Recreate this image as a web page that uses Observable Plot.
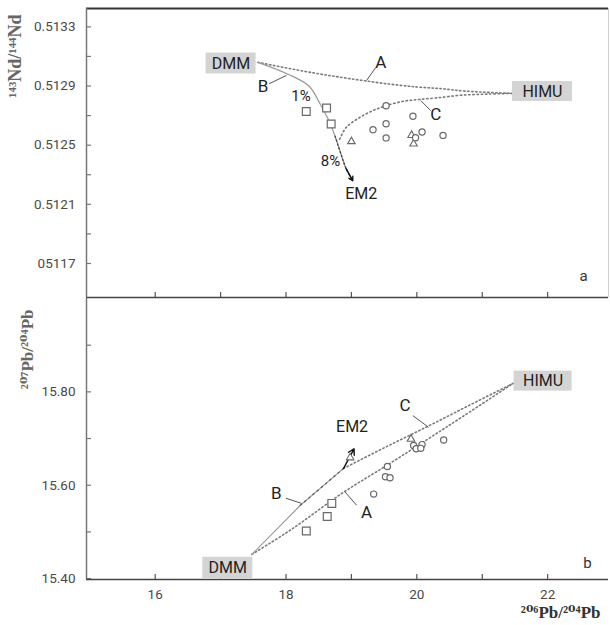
<!DOCTYPE html>
<html><head><meta charset="utf-8">
<script src="https://cdn.jsdelivr.net/npm/d3@7"></script>
<script src="https://cdn.jsdelivr.net/npm/@observablehq/plot@0.6"></script>
<style>
body{margin:0;background:#fff;}
#chart{width:610px;}
#chart svg{display:block;}
</style></head><body><div id="chart"></div>
<script>
// ---------- scales / ticks ----------
const xDomain = [14.95, 22.93];
const ndDomain = [0.51147, 0.513424];
const pbDomain = [15.398, 16.0];
const ndTicks = [0.5117, 0.5121, 0.5125, 0.5129, 0.5133];
const ndTickLabels = ["05117", "0.5121", "0.5125", "0.5129", "0.5133"];
const ndMinorTicks = [0.5119, 0.5123, 0.5127, 0.5131];
const pbTicks = [15.40, 15.60, 15.80];
const pbTickLabels = ["15.40", "15.60", "15.80"];
const pbMinorTicks = [15.50, 15.70, 15.90];
const xTicks = [16, 17, 18, 19, 20, 21, 22];
const xLabelTicks = [16, 18, 20, 22];

// ---------- panel a : 206Pb/204Pb vs 143Nd/144Nd ----------
const aCurveA = [[17.57,0.51306],[18.40,0.51299],[19.05,0.512945],[19.58,0.512913],[20.01,0.512893],[20.37,0.512882],[20.75,0.512865],[21.47,0.51285]];
const aCurveB = [[17.57,0.51306],[18.03,0.51298],[18.35,0.51290],[18.52,0.51278],[18.64,0.51268],[18.75,0.51256],[18.84,0.51244],[18.92,0.51234],[19.02,0.51226]];
const aCurveC = [[18.82,0.51254],[18.92,0.51262],[19.10,0.51268],[19.30,0.512728],[19.52,0.512766],[19.80,0.512797],[20.04,0.512809],[20.31,0.51282],[20.68,0.512838],[21.08,0.512845],[21.47,0.51285]];
const aSquares = [[18.31,0.512728],[18.62,0.512751],[18.69,0.512643]];
const aTriangles = [[19.00,0.512525],[19.92,0.512567],[19.95,0.512509]];
const aCircles = [[19.33,0.512605],[19.53,0.512645],[19.53,0.512549],[19.53,0.512766],[19.94,0.512695],[19.98,0.51255],[20.08,0.512589],[20.40,0.512566]];
const aBoxes = [{text:"DMM", x:17.16, y:0.513052, w:25, h:10.5},{text:"HIMU", x:21.92, y:0.512863, w:30, h:10}];
const aLabels = [{text:"A",x:19.45,y:0.513058,s:17},{text:"B",x:17.65,y:0.512895,s:17},{text:"C",x:20.29,y:0.512705,s:17},
  {text:"1%",x:18.23,y:0.51283,s:15},{text:"8%",x:18.68,y:0.51239,s:15},{text:"EM2",x:19.15,y:0.512172,s:16}];
const aLeaders = [[19.23,0.512937,19.375,0.513027],[17.74,0.512915,18.005,0.512971],[20.06,0.512802,20.21,0.512734]];
const aPanel = [{text:"a", x:22.55, y:0.511615}];

// ---------- panel b : 206Pb/204Pb vs 207Pb/204Pb ----------
const bCurveA = [[17.48,15.452],[18.09,15.506],[18.86,15.583],[19.57,15.645],[20.17,15.699],[20.70,15.747],[21.47,15.818]];
const bCurveB = [[17.48,15.452],[18.22,15.557],[18.88,15.636]];
const bEM2Tip = [19.04,15.678];
const bCurveC = [[18.88,15.636],[19.50,15.680],[20.18,15.727],[20.80,15.771],[21.47,15.818]];
const bSquares = [[18.31,15.502],[18.63,15.533],[18.70,15.561]];
const bTriangles = [[18.98,15.659],[19.91,15.699]];
const bCircles = [[19.34,15.581],[19.55,15.640],[19.52,15.618],[19.59,15.616],[19.95,15.685],[19.99,15.678],[20.08,15.687],[20.06,15.679],[20.41,15.697]];
const bBoxes = [{text:"DMM", x:17.11, y:15.422, w:25, h:11},{text:"HIMU", x:21.93, y:15.823, w:29, h:10}];
const bLabels = [{text:"C",x:19.82,y:15.770,s:17},{text:"EM2",x:19.01,y:15.724,s:16},{text:"B",x:17.85,y:15.583,s:17},{text:"A",x:19.23,y:15.541,s:17}];
const bLeaders = [[19.94,15.749,20.18,15.724],[18.0,15.572,18.24,15.561],[18.90,15.586,19.08,15.557]];
const bPanel = [{text:"b", x:22.61, y:15.433}];

const W = 610, ML = 86, MR = 2;
const plotW = W - ML - MR;
const sans = "Roboto, 'DejaVu Sans', sans-serif";
const serif = "'Liberation Serif', 'DejaVu Serif', serif";
const curveGray = "#7a7a7a";
const markGray = "#6a6a6a";

function symbols(sq, tri, ci) {
  return [
    Plot.dot(sq, {x: d=>d[0], y: d=>d[1], symbol: "square", r: 4.4, stroke: markGray, strokeWidth: 1.2, fill: "white"}),
    Plot.dot(tri, {x: d=>d[0], y: d=>d[1], symbol: "triangle", r: 2.8, stroke: markGray, strokeWidth: 1.1, fill: "white"}),
    Plot.dot(ci, {x: d=>d[0], y: d=>d[1], symbol: "circle", r: 3.1, stroke: markGray, strokeWidth: 1.2, fill: "white"})
  ];
}
function boxMarks(data) {
  return data.map(d => Plot.rect([d], {x1: e=>e.x, x2: e=>e.x, y1: e=>e.y, y2: e=>e.y,
      insetLeft: -d.w, insetRight: -d.w, insetTop: -d.h, insetBottom: -d.h, fill: "#d4d4d4"}))
    .concat([Plot.text(data, {x: d=>d.x, y: d=>d.y, text: d=>d.text, fontSize: 16, fill: "#222", fontFamily: sans})]);
}
function labelMarks(data) {
  return data.map(d => Plot.text([d], {x: e=>e.x, y: e=>e.y, text: e=>e.text, fontSize: d.s, fill: "#222", fontFamily: sans}));
}
function leaderMarks(data) {
  return Plot.link(data, {x1: d=>d[0], y1: d=>d[1], x2: d=>d[2], y2: d=>d[3], stroke: "#555", strokeWidth: 1});
}

// ---------- top panel ----------
const topH = 298, topMT = 8, topMB = 1;
const panelA = Plot.plot({
  width: W, height: topH,
  marginLeft: ML, marginRight: MR, marginTop: topMT, marginBottom: topMB,
  style: {fontFamily: sans, fontSize: "13.5px", color: "#4a4a4a", background: "white", overflow: "visible"},
  x: {domain: xDomain, axis: null},
  y: {domain: ndDomain},
  marks: [
    Plot.axisY({ticks: ndTicks, tickFormat: (d, i) => ndTickLabels[i], tickSize: 0, tickPadding: 11, label: null}),
    Plot.tickY(ndTicks.concat(ndMinorTicks), {y: d=>d, insetRight: plotW - 5, stroke: "#777", strokeWidth: 1.2}),
    Plot.tickX(xTicks, {x: d=>d, insetTop: (topH - topMT - topMB) - 5, stroke: "#555", strokeWidth: 1.2}),
    Plot.ruleY([ndDomain[1]], {stroke: "#333", strokeWidth: 2}),
    Plot.ruleY([ndDomain[0]], {stroke: "#444", strokeWidth: 1.6}),
    Plot.ruleX([xDomain[0]], {stroke: "#777", strokeWidth: 1.5}),
    Plot.ruleX([xDomain[1]], {stroke: "#cfcfcf", strokeWidth: 1}),
    Plot.line(aCurveA, {x: d=>d[0], y: d=>d[1], curve: "catmull-rom", stroke: curveGray, strokeWidth: 1.6, strokeDasharray: "1.4 2.6"}),
    Plot.line(aCurveC, {x: d=>d[0], y: d=>d[1], curve: "catmull-rom", stroke: curveGray, strokeWidth: 1.6, strokeDasharray: "1.4 2.8"}),
    Plot.line(aCurveB, {x: d=>d[0], y: d=>d[1], curve: "catmull-rom", stroke: "#9a9a9a", strokeWidth: 1.2}),
    Plot.line(aCurveB.slice(5), {x: d=>d[0], y: d=>d[1], curve: "catmull-rom", stroke: "#444", strokeWidth: 1.3, strokeDasharray: "1.5 2.5"}),
    Plot.arrow([aCurveB.slice(-2)], {x1: d=>d[0][0], y1: d=>d[0][1], x2: d=>d[1][0], y2: d=>d[1][1], stroke: "#111", strokeWidth: 1.4, headLength: 7}),
    leaderMarks(aLeaders),
    ...symbols(aSquares, aTriangles, aCircles),
    ...boxMarks(aBoxes),
    ...labelMarks(aLabels),
    Plot.text(aPanel, {x: d=>d.x, y: d=>d.y, text: d=>d.text, fontSize: 15, fill: "#333", fontFamily: sans}),
    Plot.text(["¹⁴³Nd/¹⁴⁴Nd"], {frameAnchor: "top-left", text: d=>d, dx: 15 - ML, dy: 6, rotate: -90, textAnchor: "end", lineAnchor: "middle",
      fontFamily: serif, fontWeight: "bold", fontSize: 18, fill: "#666"})
  ]
});

// ---------- bottom panel ----------
const botH = 625 - topH, botMT = 0, botMB = 46;
const panelB = Plot.plot({
  width: W, height: botH,
  marginLeft: ML, marginRight: MR, marginTop: botMT, marginBottom: botMB,
  style: {fontFamily: sans, fontSize: "13.5px", color: "#4a4a4a", background: "white", overflow: "visible"},
  x: {domain: xDomain},
  y: {domain: pbDomain},
  marks: [
    Plot.axisY({ticks: pbTicks, tickFormat: (d, i) => pbTickLabels[i], tickSize: 0, tickPadding: 11, label: null}),
    Plot.axisX({ticks: xLabelTicks, tickFormat: d => String(d), tickSize: 0, tickPadding: 10, label: null}),
    Plot.tickY(pbTicks.concat(pbMinorTicks), {y: d=>d, insetRight: plotW - 5, stroke: "#777", strokeWidth: 1.2}),
    Plot.tickX(xTicks, {x: d=>d, insetTop: (botH - botMT - botMB) - 5, stroke: "#555", strokeWidth: 1.2}),
    Plot.ruleY([pbDomain[0]], {stroke: "#444", strokeWidth: 1.6}),
    Plot.ruleX([xDomain[0]], {stroke: "#777", strokeWidth: 1.5}),
    Plot.line(bCurveA, {x: d=>d[0], y: d=>d[1], curve: "catmull-rom", stroke: curveGray, strokeWidth: 1.6, strokeDasharray: "1.4 2.6"}),
    Plot.line(bCurveC, {x: d=>d[0], y: d=>d[1], curve: "catmull-rom", stroke: curveGray, strokeWidth: 1.6, strokeDasharray: "1.4 2.6"}),
    Plot.line(bCurveB, {x: d=>d[0], y: d=>d[1], stroke: "#9a9a9a", strokeWidth: 1.2}),
    Plot.line(bCurveB.slice(1), {x: d=>d[0], y: d=>d[1], stroke: "#555", strokeWidth: 1.2, strokeDasharray: "1.5 4"}),
    Plot.arrow([[bCurveB[bCurveB.length - 1], bEM2Tip]], {x1: d=>d[0][0], y1: d=>d[0][1], x2: d=>d[1][0], y2: d=>d[1][1], stroke: "#111", strokeWidth: 1.4, headLength: 7}),
    leaderMarks(bLeaders),
    ...symbols(bSquares, bTriangles, bCircles),
    ...boxMarks(bBoxes),
    ...labelMarks(bLabels),
    Plot.text(bPanel, {x: d=>d.x, y: d=>d.y, text: d=>d.text, fontSize: 15, fill: "#333", fontFamily: sans}),
    Plot.text(["²⁰⁷Pb/²⁰⁴Pb"], {frameAnchor: "top-left", text: d=>d, dx: 27 - ML, dy: 11, rotate: -90, textAnchor: "end", lineAnchor: "middle",
      fontFamily: serif, fontWeight: "bold", fontSize: 17, fill: "#666"}),
    Plot.text(["²⁰⁶Pb/²⁰⁴Pb"], {frameAnchor: "bottom-right", text: d=>d, dx: -8, dy: 33, textAnchor: "end", lineAnchor: "middle",
      fontFamily: serif, fontWeight: "bold", fontSize: 17, fill: "#333"})
  ]
});

const chart = document.getElementById("chart");
chart.appendChild(panelA);
chart.appendChild(panelB);
</script>
</body></html>
